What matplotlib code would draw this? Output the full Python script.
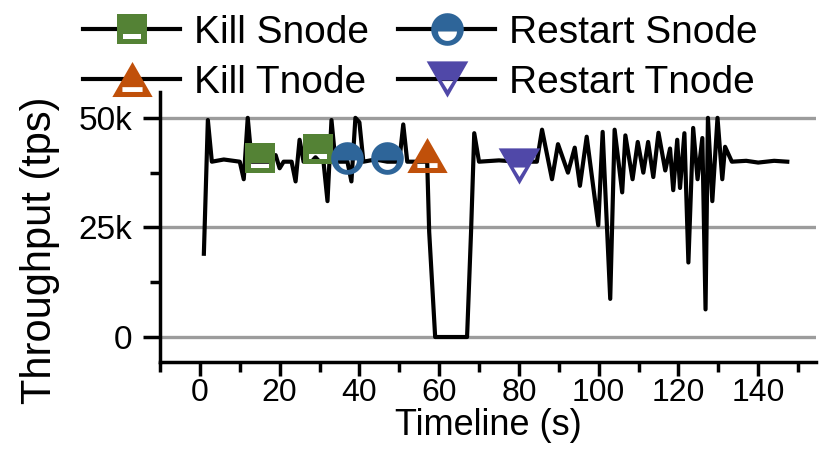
import numpy as np
import matplotlib
matplotlib.use("Agg")
import matplotlib.pyplot as plt
from matplotlib.path import Path
from matplotlib.lines import Line2D

plt.rcParams['font.family'] = ['Liberation Sans', 'DejaVu Sans']

# throughput trace (time in s, throughput in k tps)
times = [1, 2, 3, 6, 10, 11, 12, 13, 16, 18, 19, 20, 21, 23, 24, 25, 26, 28,
         29, 30, 31, 32, 33, 34, 37, 38, 39, 40, 41, 44, 47, 50, 51, 52, 56,
         57, 57.5, 59, 67, 68, 68.8, 70, 75, 80, 84.5, 85.8, 88.3, 89.8, 92.3,
         94, 95.3, 97, 99.9, 101, 102.9, 104, 105.9, 106.7, 108.5, 109.8,
         111.2, 112.4, 113.7, 115, 116.7, 117.9, 118.7, 119.7, 120.4, 121.5,
         122.5, 123.7, 124.8, 126, 126.8, 127.4, 128.5, 129.8, 131, 131.7,
         133.4, 137, 140, 144, 147.3]
tps_k = [19, 49.5, 40, 40.5, 40, 36, 50, 40, 40, 40, 41.5, 38.5, 40, 40, 35.5,
         45, 40, 40, 41, 40, 40, 31, 49.5, 40, 40, 35.5, 50, 49, 40, 40.5, 40,
         40, 48.5, 40, 40, 40, 24, 0, 0, 24, 46.5, 40, 40.3, 40, 40, 47.3, 36,
         44, 37.5, 43.2, 34.5, 45.7, 25.5, 46.8, 8.7, 47.3, 33, 46, 36, 44.5,
         37.5, 44.5, 36.5, 46.6, 38, 43, 33.5, 45, 34, 46.5, 17, 47.7, 36, 45.4,
         6.3, 50, 31, 50, 36, 43.4, 40, 40.2, 39.8, 40.2, 40]

# events
kill_snode_t = [15, 29.5]
kill_snode_k = [40.8, 43]
restart_snode_t = [37, 47]
restart_snode_k = [40.9, 40.9]
kill_tnode_t = [57]
kill_tnode_k = [41.5]
restart_tnode_t = [80]
restart_tnode_k = [39]

x_major = [0, 20, 40, 60, 80, 100, 120, 140]
x_minor = [-10, 10, 30, 50, 70, 90, 110, 130, 150]
y_major = [0, 25000, 50000]
y_labels = ['0', '25k', '50k']
y_minor = [12500, 37500]


def ring(pts, ccw=True):
    pts = np.asarray(pts, float)
    x, y = pts[:, 0], pts[:, 1]
    area = np.sum(x * np.roll(y, -1) - np.roll(x, -1) * y)
    if (area > 0) != ccw:
        pts = pts[::-1]
    return pts


def marker_with_hole(outer, hole):
    # filled marker with a small see-through hole, like the excel markers
    outer = ring(outer, True)
    hole = ring(hole, False)
    verts = np.vstack([outer, outer[:1], hole, hole[:1]])
    codes = ([Path.MOVETO] + [Path.LINETO] * (len(outer) - 1) + [Path.CLOSEPOLY]
             + [Path.MOVETO] + [Path.LINETO] * (len(hole) - 1) + [Path.CLOSEPOLY])
    return Path(verts, codes)


ang = np.linspace(0, 2 * np.pi, 48, endpoint=False)
half = np.linspace(np.pi, 2 * np.pi, 20)

sq_marker = marker_with_hole([(-1, -1), (1, -1), (1, 1), (-1, 1)],
                             [(-0.6, -0.33), (0.6, -0.33), (0.6, -0.7), (-0.6, -0.7)])
circ_marker = marker_with_hole(np.c_[np.cos(ang), np.sin(ang)],
                               np.c_[0.58 * np.cos(half), -0.12 + 0.58 * np.sin(half)])
up_marker = marker_with_hole([(-1, -0.87), (1, -0.87), (0, 0.87)],
                             [(-0.5, -0.38), (0.5, -0.38), (0.5, -0.62), (-0.5, -0.62)])
down_marker = marker_with_hole([(-1, 0.87), (0, -0.87), (1, 0.87)],
                               [(-0.28, -0.05), (0.28, -0.05), (0, -0.5)])

series = [
    ('Kill Snode', kill_snode_t, kill_snode_k, sq_marker, '#548235', 21.5),
    ('Kill Tnode', kill_tnode_t, kill_tnode_k, up_marker, '#C0500A', 29),
    ('Restart Snode', restart_snode_t, restart_snode_k, circ_marker, '#2E6599', 23.5),
    ('Restart Tnode', restart_tnode_t, restart_tnode_k, down_marker, '#5048A8', 30),
]

fig = plt.figure(figsize=(8.25, 4.55), dpi=100)
ax = fig.add_axes([160 / 825, 93 / 455, 656 / 825, 270 / 455])

for y in y_major:
    ax.axhline(y, color='#9C9C9C', lw=2.4, zorder=0)

ax.plot(times, np.array(tps_k) * 1000, color='black', lw=3,
        solid_joinstyle='round', zorder=2)

handles = []
for name, t, v, mk, col, ms in series:
    ax.plot(t, np.array(v) * 1000, ls='none', marker=mk, ms=ms,
            mfc=col, mec=col, mew=0, zorder=3)
    handles.append(Line2D([], [], color='black', lw=3, marker=mk, ms=ms,
                          mfc=col, mec=col, mew=0, label=name))

ax.set_xlim(-10, 154.5)
ax.set_ylim(-5700, 55900)
ax.set_xticks(x_major)
ax.set_xticks(x_minor, minor=True)
ax.set_yticks(y_major, y_labels)
ax.set_yticks(y_minor, minor=True)

for s in ['top', 'right']:
    ax.spines[s].set_visible(False)
for s in ['left', 'bottom']:
    ax.spines[s].set_linewidth(2.5)

ax.tick_params(axis='x', which='major', length=10, width=2.5, labelsize=23, pad=1.5)
ax.tick_params(axis='x', which='minor', length=7, width=2.5)
ax.tick_params(axis='y', which='major', length=12, width=2.5, labelsize=24, pad=8)
ax.tick_params(axis='y', which='minor', length=7, width=2.5)

ax.set_xlabel('Timeline (s)', fontsize=26, labelpad=0)
ax.set_ylabel('Throughput (tps)', fontsize=30)
ax.yaxis.set_label_coords(-0.152, 0.415)

fig.legend(handles=handles, loc='upper left', bbox_to_anchor=(83 / 825, 0.968),
           ncol=2, frameon=False, fontsize=28, borderpad=0, borderaxespad=0,
           handlelength=2.5, handletextpad=0.35, columnspacing=0.75,
           labelspacing=0.36, numpoints=1)

fig.savefig('out.png', dpi=100)
